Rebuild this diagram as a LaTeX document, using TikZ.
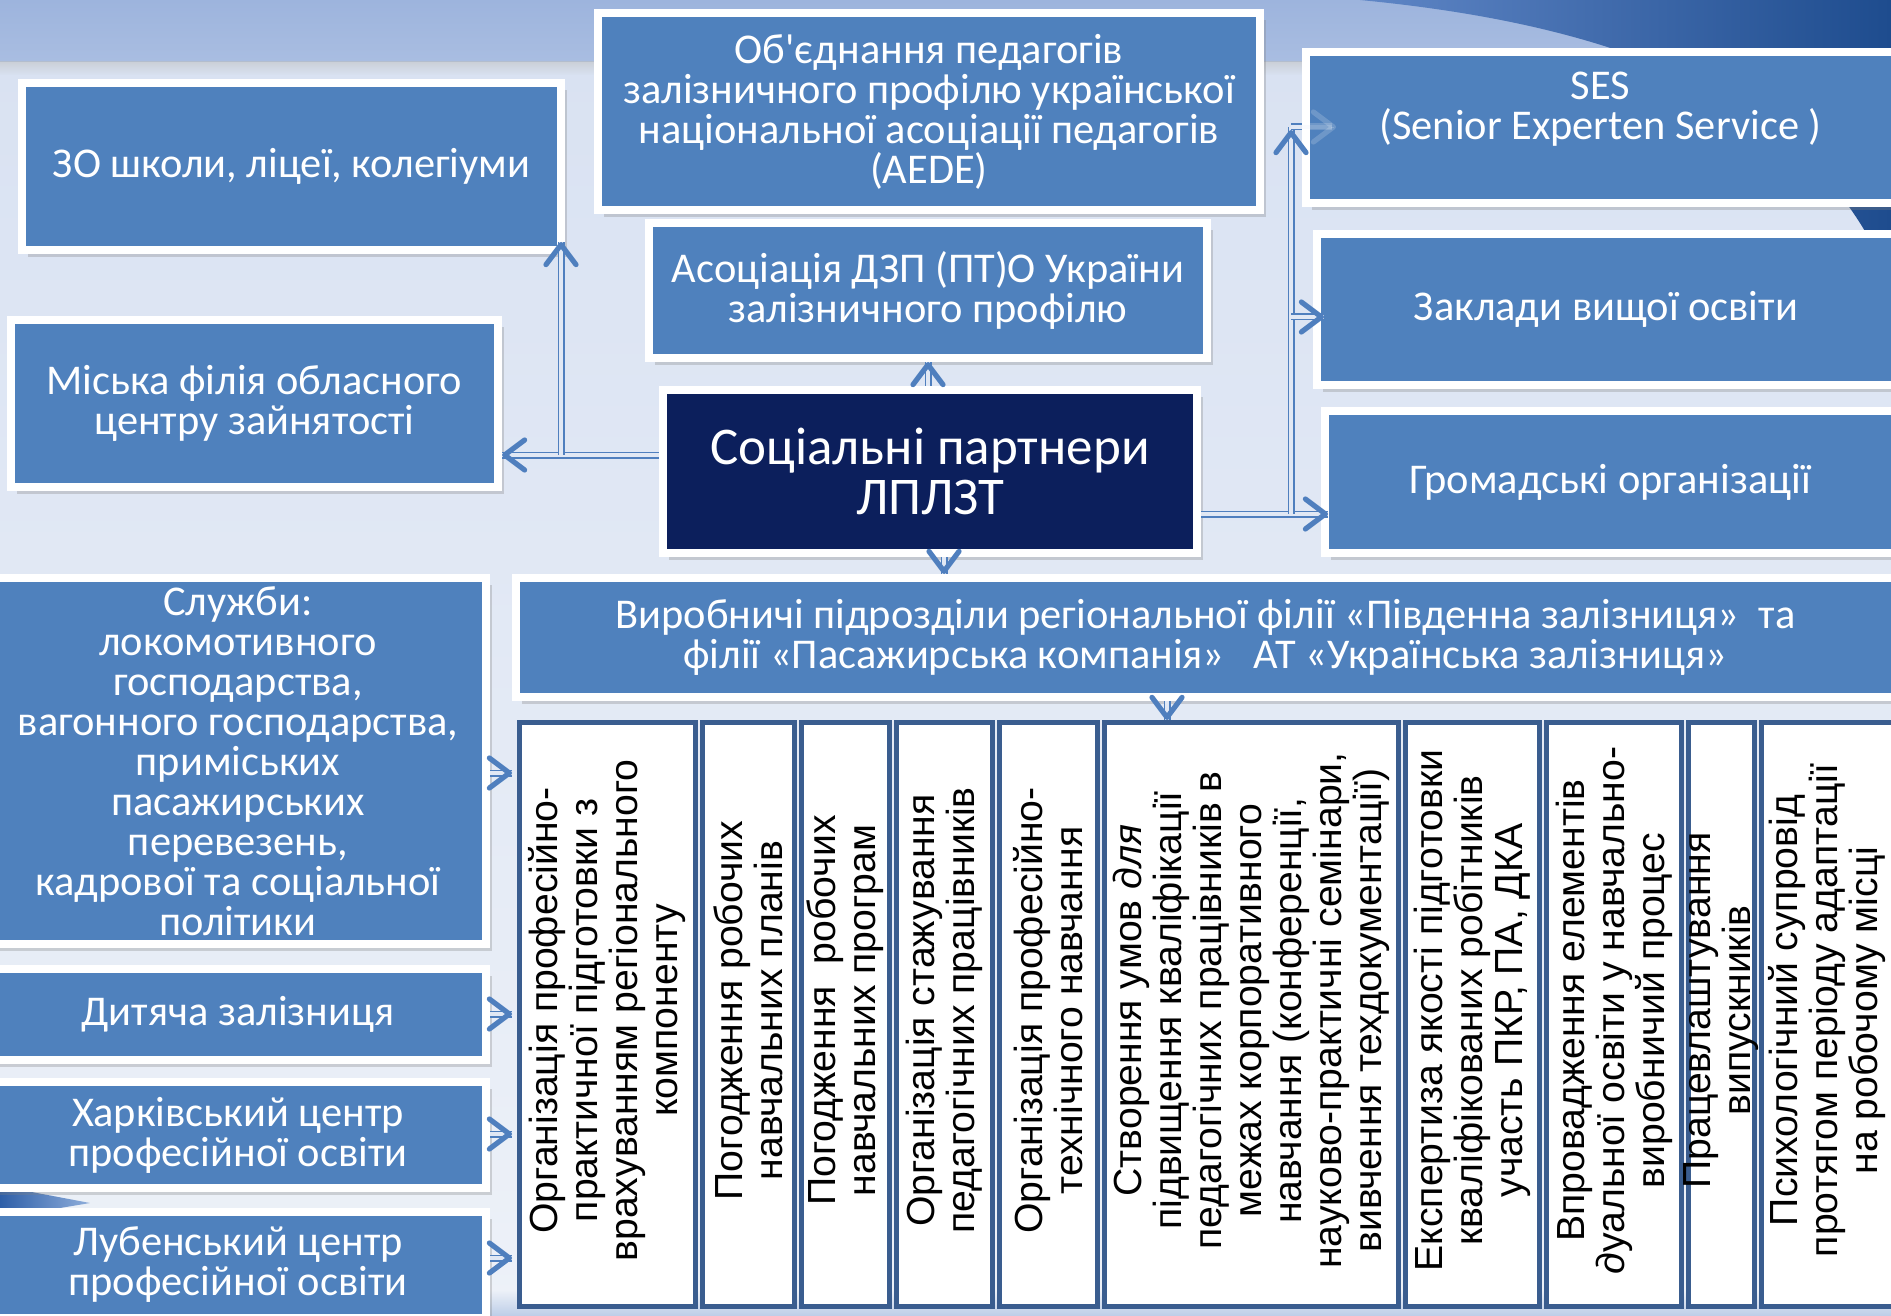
\documentclass[tikz,border=0pt]{standalone}
\usepackage{fontspec}
\setmainfont{Carlito}[Ligatures=TeXOff]
\newfontfamily\colfont{Liberation Sans}
\usetikzlibrary{arrows.meta,shadows,calc}
\definecolor{boxblue}{HTML}{4F81BD}
\definecolor{navy}{HTML}{0C1F5C}
\definecolor{arrc}{HTML}{4F7FBE}
\definecolor{colline}{HTML}{3A5D8F}
\definecolor{bgtop}{HTML}{D9E2F2}
\definecolor{bgbot}{HTML}{EDF1F8}
\definecolor{band}{HTML}{9DB4DD}
\definecolor{swa}{HTML}{5F86C6}
\definecolor{swb}{HTML}{1E4C8E}
\definecolor{swc}{HTML}{2E5FA8}
\definecolor{swd}{HTML}{8FAEDB}
\definecolor{botb}{HTML}{BCCDE7}
\newcommand\bx[6][]{\node[#2,#1, minimum width={(#5-#3)*0.5pt}, minimum height={(#6-#4)*0.5pt}] at ({(#3+#5)/2},{(#4+#6)/2})}
\begin{document}
\begin{tikzpicture}[x=0.5pt,y=-0.5pt,
  box/.style={draw=white, line width=4pt, fill=boxblue, text=white, align=center,
    inner sep=0pt, font=\fontsize{21.2pt}{20pt}\selectfont,
    drop shadow={shadow xshift=3pt, shadow yshift=-3.5pt, opacity=0.3}},
  navybox/.style={box, fill=navy, font=\fontsize{26.5pt}{25pt}\selectfont},
  colbox/.style={draw=colline, line width=2.5pt, fill=white, inner sep=0pt},
  coltxt/.style={rotate=90, align=center, text=black, inner sep=0pt,
    font=\colfont\fontsize{19.6pt}{20pt}\selectfont},
  conn/.style={draw=arrc, line width=0.8pt, double=bgtop!60!bgbot, double distance=1.9pt},
  tipst/.style={draw=arrc, line width=0.3pt,
    -{Straight Barb[length=10pt, width=15pt, line width=2.6pt, round]}},
  faint/.style={draw=white, opacity=0.18}
]
\newcommand\tip[3][]{\draw[tipst,#1] ($#2+#3$) -- #2;}
% background
\useasboundingbox (0,0) rectangle (1891,1316);
\shade[top color=bgtop, bottom color=bgbot] (0,60) rectangle (1891,1316);
\shade[top color=band, bottom color=band!80!bgtop] (0,0) rectangle (1891,62);
\shade[top color=black!25, bottom color=bgtop, opacity=0.5] (0,62) rectangle (1891,75);
\shade[left color=swa, right color=swb] (1360,0) .. controls (1620,25) and (1820,100) .. (1891,285) -- (1891,0) -- cycle;
\shade[left color=swc, right color=swd] (0,1186) -- (90,1203) -- (0,1218) -- cycle;
\shade[top color=bgbot, bottom color=botb] (0,1290) rectangle (1891,1316);

% boxes
\bx{box}{22}{83}{561}{250} (zo) {ЗО школи, ліцеї, колегіуми};
\bx{box}{11}{320}{498}{487} (misk) {Міська філія обласного\\центру зайнятості};
\bx{box}{598}{13}{1260}{210} (obj) {Об'єднання педагогів\\залізничного профілю української\\національної асоціації педагогів\\(AEDE)};
\bx{box}{649}{223}{1207}{358} (asoc) {Асоціація ДЗП (ПТ)О України\\залізничного профілю};
\bx{navybox}{663}{390}{1197}{553} (soc) {Соціальні партнери\\ЛПЛЗТ};
\bx{box}{1306}{52}{1895}{203} (ses) {SES\\(Senior Experten Service )\\[2pt]\mbox{}};
\bx{box}{1317}{234}{1895}{385} (zak) {Заклади вищої освіти};
\bx{box}{1325}{411}{1895}{553} (grom) {Громадські організації};
\bx{box}{516}{578}{1895}{697} (vyr) {Виробничі підрозділи регіональної філії «Південна залізниця»~~та\\філії «Пасажирська компанія»~~~АТ «Українська залізниця»};
\bx{box}{-10}{578}{486}{944} (sl) {Служби:\\локомотивного\\господарства,\\вагонного господарства,\\приміських\\пасажирських\\перевезень,\\кадрової та соціальної\\політики};
\bx{box}{-10}{969}{486}{1060} (dyt) {Дитяча залізниця};
\bx{box}{-10}{1082}{486}{1188} (khar) {Харківський центр\\професійної освіти};
\bx{box}{-10}{1212}{486}{1318} (lub) {Лубенський центр\\професійної освіти};

% columns
\bx{colbox}{519.5}{722.5}{695.5}{1306.5} (c1) {};
\bx{colbox}{702.5}{722.5}{794.5}{1306.5} (c2) {};
\bx{colbox}{801.5}{722.5}{889.5}{1306.5} (c3) {};
\bx{colbox}{896.5}{722.5}{992.5}{1306.5} (c4) {};
\bx{colbox}{999.5}{722.5}{1097.5}{1306.5} (c5) {};
\bx{colbox}{1104.5}{722.5}{1398.5}{1306.5} (c6) {};
\bx{colbox}{1405.5}{722.5}{1539.5}{1306.5} (c7) {};
\bx{colbox}{1546.5}{722.5}{1681.5}{1306.5} (c8) {};
\bx{colbox}{1688.5}{722.5}{1754.5}{1306.5} (c9) {};
\bx{colbox}{1761.5}{722.5}{1900}{1306.5} (c10) {};
\node[coltxt] at ([yshift=2pt]c1.center) {Організація професійно-\\практичної підготовки з\\врахуванням регіонального\\компоненту};
\node[coltxt] at ([yshift=2pt]c2.center) {Погодження робочих\\навчальних планів};
\node[coltxt] at ([yshift=2pt]c3.center) {Погодження~~робочих\\навчальних програм};
\node[coltxt] at ([yshift=2pt]c4.center) {Організація стажування\\педагогічних працівників};
\node[coltxt] at ([yshift=2pt]c5.center) {Організація професійно-\\технічного навчання};
\node[coltxt] at ([yshift=2pt]c6.center) {Створення умов \textit{для}\\підвищення кваліфікації\\педагогічних працівників в\\межах корпоративного\\навчання (конференції,\\науково-практичні семінари,\\вивчення техдокументації)};
\node[coltxt] at ([yshift=2pt]c7.center) {Експертиза якості підготовки\\кваліфікованих робітників\\участь ПКР, ПА, ДКА};
\node[coltxt] at ([yshift=2pt]c8.center) {Впровадження елементів\\\textit{д}уальної освіти у навчально-\\виробничий процес};
\node[coltxt] at ([yshift=2pt]c9.center) {Працевлаштування\\випускників};
\node[coltxt] at ([xshift=-2pt,yshift=2pt]c10.center) {Психологічний супровід\\протягом періоду адаптації\\на робочому місці};

% connectors
\coordinate (j1) at (561,455);
\coordinate (j2) at (1291,514);
\coordinate (j3) at (1291,127);
\coordinate (j4) at (1291,317);
\coordinate (xd) at (944,0);
\coordinate (xe) at (1167,0);
\coordinate (ya) at (0,773);
\coordinate (yb) at (0,1014);
\coordinate (yc) at (0,1134);
\coordinate (yd) at (0,1258);

\draw[conn] (soc.west |- j1) -- (misk.east |- j1);
\tip{(misk.east |- j1)}{(2,0)}
\draw[conn] (j1) -- ($(zo.south -| j1)+(0,-12)$);
\tip{($(zo.south -| j1)+(0,-12)$)}{(0,2)}
\draw[conn] (soc.north -| asoc.south) -- (asoc.south);
\tip{(asoc.south)}{(0,2)}
\draw[conn] (soc.south -| xd) -- (vyr.north -| xd);
\tip{(vyr.north -| xd)}{(0,-2)}
\draw[conn] (vyr.south -| xe) -- (c6.north -| xe);
\tip{(c6.north -| xe)}{(0,-2)}
\draw[conn] (soc.east |- j2) -- ($(grom.west |- j2)+(7,0)$);
\tip{($(grom.west |- j2)+(7,0)$)}{(-2,0)}
\draw[conn] (j2) -- (j3);
\tip{($(j3)+(0,3)$)}{(0,2)}
\draw[conn] (j4) -- ($(zak.west |- j4)+(11,0)$);
\tip{($(zak.west |- j4)+(11,0)$)}{(-2,0)}
\draw[conn] (j3) -- (ses.west |- j3);
\draw[conn, faint] (ses.west |- j3) -- ($(ses.west |- j3)+(30,0)$);
\tip[faint]{($(ses.west |- j3)+(34,0)$)}{(-2,0)}

\draw[conn] (sl.east |- ya) -- ($(c1.west |- ya)+(-5,0)$);
\tip{($(c1.west |- ya)+(-5,0)$)}{(-2,0)}
\draw[conn] (dyt.east |- yb) -- ($(c1.west |- yb)+(-5,0)$);
\tip{($(c1.west |- yb)+(-5,0)$)}{(-2,0)}
\draw[conn] (khar.east |- yc) -- ($(c1.west |- yc)+(-5,0)$);
\tip{($(c1.west |- yc)+(-5,0)$)}{(-2,0)}
\draw[conn] (lub.east |- yd) -- ($(c1.west |- yd)+(-5,0)$);
\tip{($(c1.west |- yd)+(-5,0)$)}{(-2,0)}
\end{tikzpicture}
\end{document}
